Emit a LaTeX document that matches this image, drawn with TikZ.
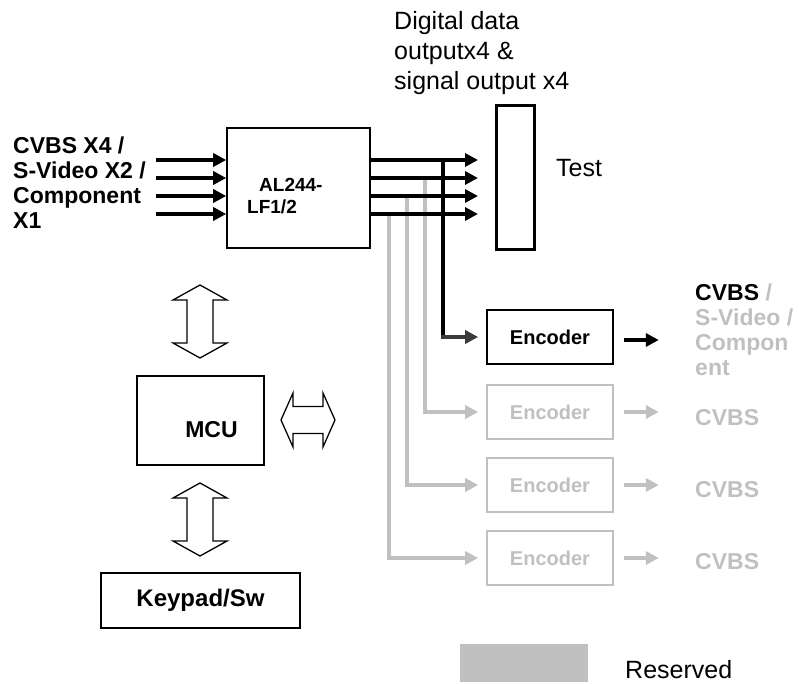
\documentclass[tikz,border=0pt]{standalone}
\usepackage{fontspec}
\setmainfont{Liberation Sans}
\usetikzlibrary{arrows.meta,calc,positioning}
\definecolor{ink}{HTML}{000000}
\definecolor{resv}{HTML}{C0C0C0}
\definecolor{tapink}{HTML}{3A3A3A}
\tikzset{
  blk/.style={draw=ink,line width=1.6pt,fill=white,inner sep=0pt},
  encbox/.style={blk,minimum width=126pt,minimum height=54pt,font=\fontsize{20}{22}\selectfont\bfseries},
  resbox/.style={encbox,draw=resv,text=resv},
  bus/.style={-{Triangle[length=13pt,width=13pt]},line width=4.6pt,draw=ink},
  resbus/.style={bus,line width=4pt,draw=resv},
  outarrow/.style={-{Triangle[length=13pt,width=13pt]},line width=4pt,draw=ink},
  big/.style={font=\fontsize{23}{25}\selectfont\bfseries,inner sep=0pt},
  plain/.style={font=\fontsize{25}{30}\selectfont,inner sep=0pt},
  hollow/.style={draw=ink,line width=1.3pt,fill=white,line join=miter}
}

\begin{document}
\begin{tikzpicture}[x=1pt,y=-1pt]
  \useasboundingbox (0,0) rectangle (799,684);

  % main chip
  \node[blk,minimum width=143pt,minimum height=120pt] (al) at (298.5,188) {};
  \node[font=\fontsize{19}{22}\selectfont\bfseries,align=left,inner sep=0pt,anchor=north west]
    (allab) at (247,178) {\hspace*{12pt}AL244-\\LF1/2};

  \node[big,align=left,anchor=north west] (src) at (13,137)
    {CVBS X4 /\\S-Video X2 /\\Component\\X1};

  % test header
  \node[blk,line width=3pt,minimum width=38pt,minimum height=144pt] (test) at (515,178) {};
  \node[plain,anchor=west] (testlab) at (556,168) {Test};
  \node[plain,align=left,anchor=north west] (dig) at (394,11)
    {Digital data\\outputx4 \&\\signal output x4};

  % encoders
  \node[encbox] (enc0) at (550,337) {Encoder};
  \node[resbox] (enc1) at (550,412) {Encoder};
  \node[resbox] (enc2) at (550,485) {Encoder};
  \node[resbox] (enc3) at (550,558) {Encoder};

  % inputs and outputs of the chip
  \foreach \i/\y in {1/160,2/178,3/196,4/214} {
    \coordinate (in\i) at (156,\y);
    \coordinate (out\i) at (478,\y);
  }

  % reserved taps
  \foreach \i/\x/\k in {2/425/1,3/407/2,4/389/3} {
    \coordinate (tap\k) at (\x,0);
    \draw[resbus,line join=miter,shorten >=8pt] (tap\k |- out\i) |- (enc\k.west);
  }
  \coordinate (tap0) at (443,0);
  \draw[line width=4.6pt,draw=ink] (tap0 |- out1) -- (tap0 |- enc0.west);
  \draw[bus,draw=tapink,shorten >=8pt] ($(tap0 |- enc0.west)+(-2.3,0)$) -- (enc0.west);

  \foreach \i in {1,...,4} {
    \draw[bus] (in\i) -- (in\i -| al.west);
    \draw[bus] (out\i -| al.east) -- (out\i);
  }

  % encoder outputs
  \draw[outarrow] ($(enc0.east)+(10,3)$) -- ($(enc0.east)+(45,3)$);
  \foreach \k in {1,2,3}
    \draw[outarrow,draw=resv] ($(enc\k.east)+(10,0)$) -- ($(enc\k.east)+(45,0)$);

  \node[big,align=left,anchor=north west] (lab0) at (695,284)
    {CVBS \textcolor{resv}{/}\\\textcolor{resv}{S-Video /}\\\textcolor{resv}{Compon}\\\textcolor{resv}{ent}};
  \node[big,text=resv,anchor=west] (lab1) at (695,418) {CVBS};
  \node[big,text=resv,anchor=west] (lab2) at (695,490) {CVBS};
  \node[big,text=resv,anchor=west] (lab3) at (695,562) {CVBS};

  % controller side
  \node[blk,minimum width=127pt,minimum height=89pt] (mcu) at (200.5,420.5) {};
  \node[big] (mculab) at (211.5,430) {MCU};
  \node[blk,minimum width=199pt,minimum height=55pt,big,font=\fontsize{24}{26}\selectfont\bfseries] (key) at (200.5,600.5) {Keypad/Sw};

  \foreach \cy in {321.5,519.5}
    \draw[hollow] (200,\cy-36.5) -- (227,\cy-21.5) -- (213,\cy-21.5) -- (213,\cy+21.5)
      -- (227,\cy+21.5) -- (200,\cy+36.5) -- (173,\cy+21.5) -- (187,\cy+21.5)
      -- (187,\cy-21.5) -- (173,\cy-21.5) -- cycle;
  \draw[hollow] (281,420) -- (293,393) -- (293,406.5) -- (323,406.5) -- (323,393) -- (335,420)
    -- (323,447) -- (323,433.5) -- (293,433.5) -- (293,447) -- cycle;

  % legend
  \node[fill=resv,minimum width=128pt,minimum height=38pt,inner sep=0pt] (legend) at (524,663) {};
  \node[plain,anchor=west] (leglab) at (625,670) {Reserved};
\end{tikzpicture}
\end{document}
